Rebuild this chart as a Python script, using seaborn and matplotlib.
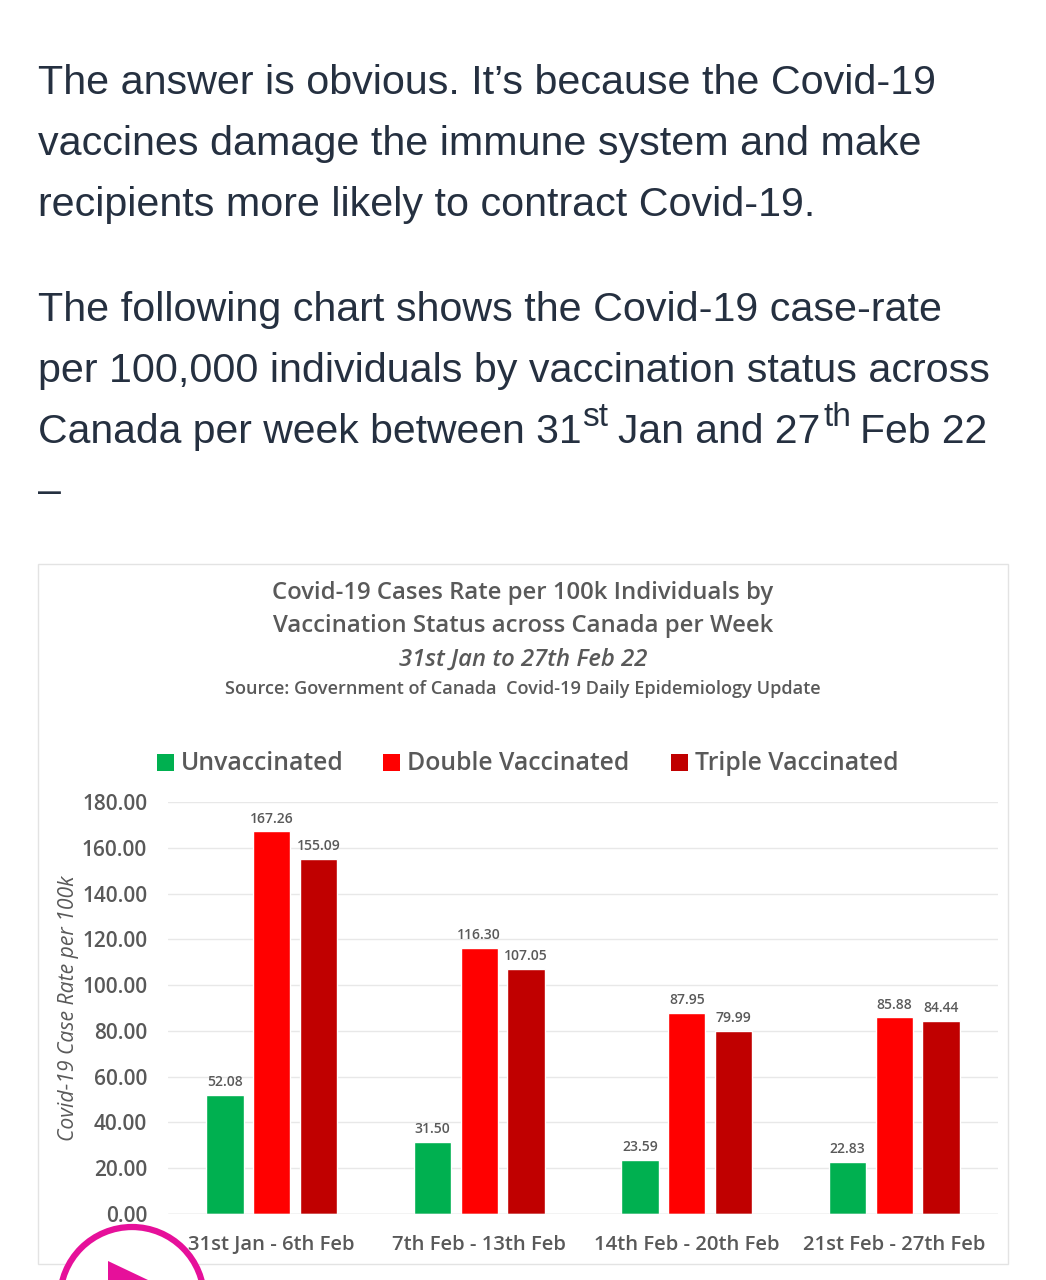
"""Covid-19 case rate bars inside an article screenshot."""
import matplotlib
matplotlib.use("Agg")
import matplotlib.pyplot as plt
from matplotlib.patches import Circle, Polygon, Rectangle
import pandas as pd
import seaborn as sns

WEEKS = ["31st Jan - 6th Feb", "7th Feb - 13th Feb", "14th Feb - 20th Feb", "21st Feb - 27th Feb"]
UNVACCINATED = [52.08, 31.50, 23.59, 22.83]
DOUBLE = [167.26, 116.30, 87.95, 85.88]
TRIPLE = [155.09, 107.05, 79.99, 84.44]
STATUS = ["Unvaccinated", "Double Vaccinated", "Triple Vaccinated"]
COLORS = ["#00b050", "#ff0000", "#c00000"]
YTICKS = [0, 20, 40, 60, 80, 100, 120, 140, 160, 180]

W, H = 1046, 1280
INK = "#253040"
GREY = "#595959"
BODY = 29.7

sns.set_theme(style="white")
plt.rcParams["font.family"] = ["Liberation Sans", "DejaVu Sans"]

fig = plt.figure(figsize=(W / 100, H / 100), dpi=100, facecolor="white")
page = fig.add_axes([0, 0, 1, 1])
page.set_xlim(0, W)
page.set_ylim(H, 0)
page.axis("off")

# article text
for y, line in [(83, "The answer is obvious. It’s because the Covid-19"),
                (144, "vaccines damage the immune system and make"),
                (205, "recipients more likely to contract Covid-19."),
                (310, "The following chart shows the Covid-19 case-rate"),
                (371, "per 100,000 individuals by vaccination status across")]:
    page.text(38, y, line, fontsize=BODY, color=INK, va="center")
# last line is pieced together so the superscripts stay small
for x, y, txt, size in [(38, 432, "Canada per week between 31", 29.4),
                        (582, 417, "st", 24),
                        (618, 432, "Jan and 27", 29.4),
                        (824, 417, "th", 24),
                        (860, 432, "Feb 22", 29.4)]:
    page.text(x, y, txt, fontsize=size, color=INK, va="center")
page.text(38, 492, "–", fontsize=BODY, color=INK, va="center")

# chart frame
page.add_patch(Rectangle((37.5, 563.5), 970, 700, fc="white", ec="#e3e3e3", lw=1))
for y, txt, size, style in [(593, "Covid-19 Cases Rate per 100k Individuals by", 17.2, "normal"),
                            (626, "Vaccination Status across Canada per Week", 17.2, "normal"),
                            (660, "31st Jan to 27th Feb 22", 17.2, "italic"),
                            (689, "Source: Government of Canada  Covid-19 Daily Epidemiology Update", 13.1, "normal")]:
    page.text(523, y, txt, fontsize=size, color=GREY, ha="center", va="center",
              style=style, weight="semibold", family="Open Sans")

df = pd.DataFrame({"week": WEEKS * 3,
                   "status": [s for s in STATUS for _ in WEEKS],
                   "rate": UNVACCINATED + DOUBLE + TRIPLE})

ax = fig.add_axes([168 / W, 1 - 1214 / H, (998 - 168) / W, (1214 - 802) / H])
ax.patch.set_alpha(0)
sns.barplot(data=df, x="week", y="rate", hue="status", palette=COLORS, hue_order=STATUS,
            width=0.675, gap=0.2, saturation=1, legend=False, ax=ax, order=WEEKS)
ax.set_ylim(0, 180)
ax.set_xlim(-0.5, 3.5)
ax.set_yticks(YTICKS)
ax.set_yticklabels([f"{v:.2f}" for v in YTICKS], fontsize=15, color=GREY, weight="semibold", family="Open Sans")
ax.set_xticks(range(4))
ax.set_xticklabels(WEEKS, fontsize=14.6, color=GREY, weight="semibold", family="Open Sans")
ax.tick_params(axis="y", length=0, pad=15)
ax.tick_params(axis="x", length=0, pad=15)
ax.yaxis.grid(True, color="#e8e8e8", lw=1)
ax.set_axisbelow(True)
sns.despine(ax=ax, left=True, bottom=True)
ax.axhline(0, color="#d9d9d9", lw=1)
ax.set_xlabel("")
ax.set_ylabel("Covid-19 Case Rate per 100k", fontsize=15.2, style="italic", color=GREY, family="Open Sans", labelpad=2)

for container in ax.containers:
    ax.bar_label(container, fmt="%.2f", fontsize=10, color=GREY, weight="semibold", family="Open Sans", padding=4)

# legend, placed by hand as in the source
for x, c, label in zip([157, 383, 671], COLORS, STATUS):
    page.add_patch(Rectangle((x, 754), 17, 17, fc=c, ec="none"))
    page.text(x + 24, 763, label, fontsize=17.8, color=GREY, va="center", weight="semibold", family="Open Sans")

# video play overlay at the bottom edge
overlay = fig.add_axes([0, 0, 1, 1])
overlay.set_xlim(0, W)
overlay.set_ylim(H, 0)
overlay.axis("off")
overlay.add_patch(Circle((132, 1299), 72, fc="white", ec="#e6109a", lw=4.5))
overlay.add_patch(Polygon([(108, 1261), (108, 1300), (148, 1280)], fc="#e6109a", ec="none"))

fig.savefig("out.png", dpi=100)
